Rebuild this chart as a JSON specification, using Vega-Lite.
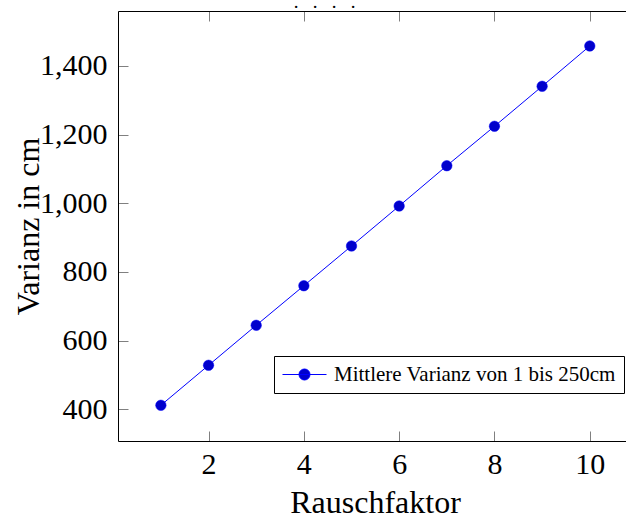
{
  "$schema": "https://vega.github.io/schema/vega-lite/v6.json",
  "autosize": {"type": "none"},
  "padding": {"left": 118, "top": 11, "right": 0, "bottom": 77},
  "width": 508,
  "height": 430,
  "background": "white",
  "config": {"view": {"stroke": null}, "font": "Liberation Serif"},
  "data": {"values": [
    {"Rauschfaktor": 1, "Varianz": 411.7, "series": "Mittlere Varianz von 1 bis 250cm"},
    {"Rauschfaktor": 2, "Varianz": 528.2, "series": "Mittlere Varianz von 1 bis 250cm"},
    {"Rauschfaktor": 3, "Varianz": 644.7, "series": "Mittlere Varianz von 1 bis 250cm"},
    {"Rauschfaktor": 4, "Varianz": 760.0, "series": "Mittlere Varianz von 1 bis 250cm"},
    {"Rauschfaktor": 5, "Varianz": 875.7, "series": "Mittlere Varianz von 1 bis 250cm"},
    {"Rauschfaktor": 6, "Varianz": 992.2, "series": "Mittlere Varianz von 1 bis 250cm"},
    {"Rauschfaktor": 7, "Varianz": 1109.6, "series": "Mittlere Varianz von 1 bis 250cm"},
    {"Rauschfaktor": 8, "Varianz": 1224.4, "series": "Mittlere Varianz von 1 bis 250cm"},
    {"Rauschfaktor": 9, "Varianz": 1340.9, "series": "Mittlere Varianz von 1 bis 250cm"},
    {"Rauschfaktor": 10, "Varianz": 1458.3, "series": "Mittlere Varianz von 1 bis 250cm"}
  ]},
  "layer": [
    {
      "mark": {"type": "line", "strokeWidth": 1},
      "encoding": {
        "x": {"field": "Rauschfaktor", "type": "quantitative",
          "scale": {"domain": [0.1, 10.76], "nice": false, "zero": false},
          "axis": {"values": [2, 4, 6, 8, 10], "grid": false, "format": "d",
            "tickSize": -10, "tickColor": "#808080", "tickWidth": 1,
            "domainColor": "black", "domainWidth": 1,
            "labelFont": "Liberation Serif", "labelFontSize": 30, "labelColor": "black",
            "labelBaseline": "alphabetic", "labelPadding": 42, "labelFlush": false, "labelOverlap": false,
            "title": "Rauschfaktor", "titleFont": "Liberation Serif", "titleFontSize": 32, "titleFontWeight": "normal",
            "titleColor": "black", "titleX": 257, "titleY": 71, "titleBaseline": "alphabetic", "titleAlign": "center"}},
        "y": {"field": "Varianz", "type": "quantitative",
          "scale": {"domain": [307.7, 1560.2], "nice": false, "zero": false},
          "axis": {"values": [400, 600, 800, 1000, 1200, 1400], "format": ",.0f", "grid": false,
            "tickSize": -10, "tickColor": "#808080", "tickWidth": 1,
            "domainColor": "black", "domainWidth": 1,
            "labelFont": "Liberation Serif", "labelFontSize": 30, "labelColor": "black",
            "labelBaseline": "middle", "labelPadding": 21, "labelFlush": false, "labelOverlap": false,
            "title": "Varianz in cm", "titleFont": "Liberation Serif", "titleFontSize": 32, "titleFontWeight": "normal",
            "titleColor": "black", "titleX": -80, "titleY": 215, "titleAngle": -90, "titleBaseline": "alphabetic", "titleAlign": "center"}},
        "color": {"field": "series", "type": "nominal", "scale": {"range": ["#0000ff"]},
          "legend": {"orient": "none", "legendX": 156, "legendY": 345, "title": null,
            "strokeColor": "black", "fillColor": "white", "padding": 8, "cornerRadius": 0,
            "labelFont": "Liberation Serif", "labelFontSize": 21, "labelColor": "black", "labelLimit": 0,
            "labelOffset": 31,
            "symbolType": "M-1.667,0L5.667,0M1.083,0A0.917,0.917,0,1,1,2.917,0A0.917,0.917,0,1,1,1.083,0Z",
            "symbolSize": 144, "symbolStrokeWidth": 1,
            "encode": {"symbols": {"update": {"fill": {"value": "#0000cc"}, "stroke": {"value": "#0000ff"}, "strokeWidth": {"value": 1}, "opacity": {"value": 1}}}}}}
      }
    },
    {
      "mark": {"type": "point", "filled": true, "fill": "#0000cc", "stroke": "#0000ff", "strokeWidth": 0.5, "size": 110, "opacity": 1},
      "encoding": {
        "x": {"field": "Rauschfaktor", "type": "quantitative",
          "axis": {"values": [2, 4, 6, 8, 10], "grid": false, "labels": false,
            "title": ".\u00a0\u00a0\u00a0.\u00a0\u00a0\u00a0.\u00a0\u00a0\u00a0.", "titleFont": "Liberation Serif", "titleFontSize": 19, "titleFontWeight": "normal",
            "titleColor": "black", "titleX": 206, "titleY": -4, "titleBaseline": "alphabetic", "titleAlign": "center",
            "tickSize": -10, "tickColor": "#808080", "tickWidth": 1, "domainColor": "black", "domainWidth": 1}},
        "y": {"field": "Varianz", "type": "quantitative",
          "axis": {"values": [400, 600, 800, 1000, 1200, 1400], "format": ",.0f", "grid": false,
            "tickSize": -10, "tickColor": "#808080", "tickWidth": 1,
            "domainColor": "black", "domainWidth": 1,
            "labelFont": "Liberation Serif", "labelFontSize": 30, "labelColor": "black",
            "labelBaseline": "middle", "labelPadding": 21, "labelFlush": false, "labelOverlap": false,
            "title": "Varianz in cm", "titleFont": "Liberation Serif", "titleFontSize": 32, "titleFontWeight": "normal",
            "titleColor": "black", "titleX": -80, "titleY": 215, "titleAngle": -90, "titleBaseline": "alphabetic", "titleAlign": "center"}}
      }
    }
  ],
  "resolve": {"axis": {"x": "independent"}}
}
